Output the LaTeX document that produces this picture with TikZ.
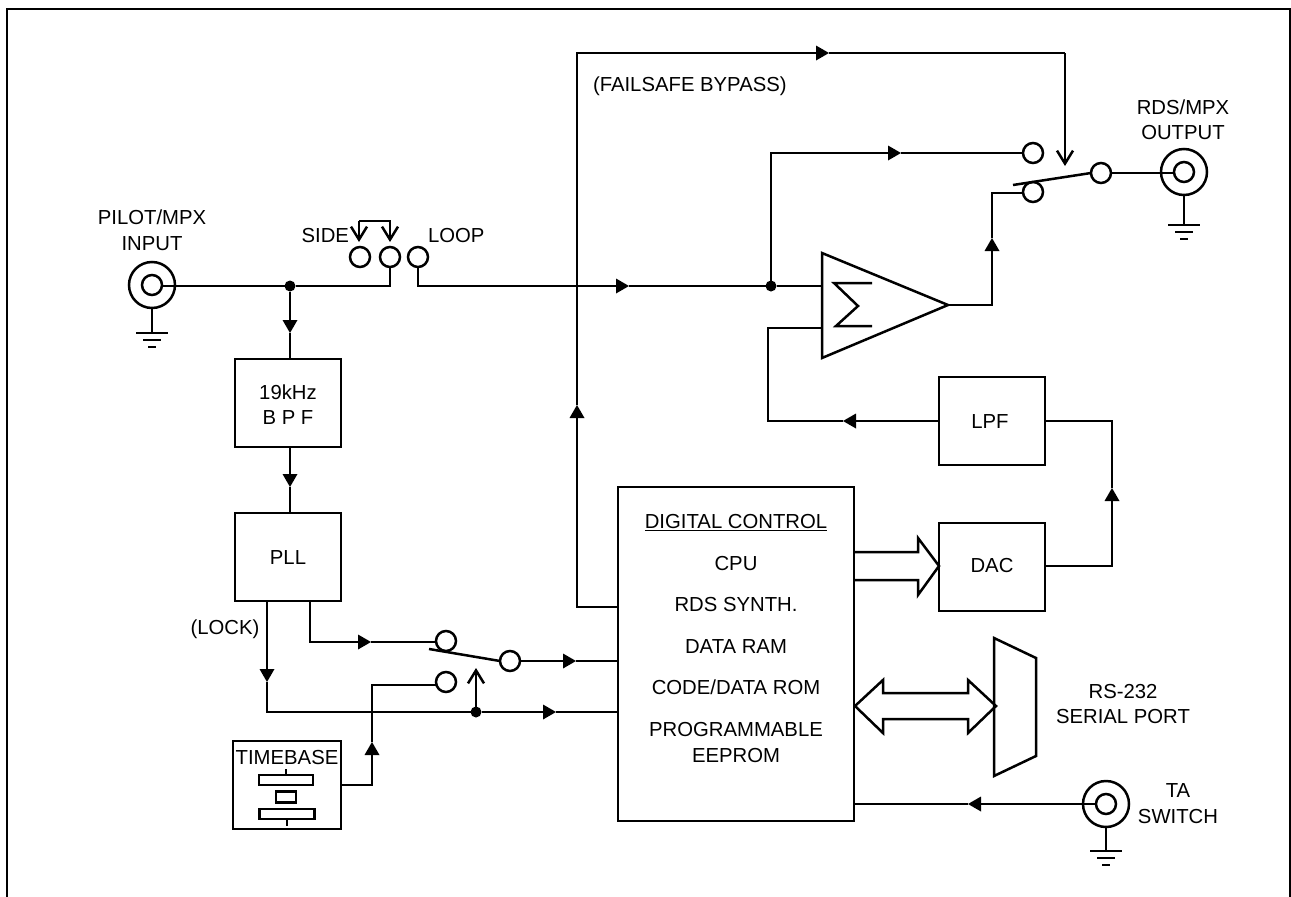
\documentclass[tikz,border=0pt]{standalone}
\usepackage{fontspec}
\setmainfont{Liberation Sans}
\usetikzlibrary{arrows.meta}
\tikzset{
  wire/.style={line width=2.5pt,line join=miter},
  flow/.style={wire,-{Triangle[length=13pt,width=15pt,line width=0pt]}},
  barb/.style={wire,-{Straight Barb[length=13pt,width=16pt,line width=2.5pt]}},
  box/.style={draw,line width=2.5pt,inner sep=0pt,outer sep=0pt},
  term/.style={draw,circle,line width=2.5pt,minimum size=20pt,inner sep=0pt,outer sep=0pt},
  coaxo/.style={draw,circle,line width=2.5pt,minimum size=46pt,inner sep=0pt,outer sep=0pt},
  dot/.style={fill,circle,minimum size=11pt,inner sep=0pt,outer sep=0pt},
  lab/.style={inner sep=0pt,outer sep=0pt,align=center,font=\lbl,text height=14.5pt,text depth=0pt},
  gnd/.style={line width=2.5pt},
  xtal/.style={draw,line width=2.5pt,inner sep=0pt,outer sep=0pt}
}
\newcommand{\lbl}{\fontsize{20.3}{26}\selectfont}
\begin{document}
\begin{tikzpicture}[x=1pt,y=-1pt]
\useasboundingbox (0,0) rectangle (1291,897);
% frame
\coordinate (fa) at (7,897); \coordinate (fb) at (7,9); \coordinate (fc) at (1290,9); \coordinate (fd) at (1290,897);
\draw[line width=2.6pt] (fa) -- (fb) -- (fc) -- (fd);

% boxes
\node[box,minimum width=106pt,minimum height=88pt] (bpf) at (288,403) {};
\node[box,minimum width=106pt,minimum height=88pt] (pll) at (288,557) {};
\node[box,minimum width=106pt,minimum height=88pt] (lpf) at (992,421) {};
\node[box,minimum width=106pt,minimum height=88pt] (dac) at (992,567) {};
\node[box,minimum width=236pt,minimum height=334pt] (cpu) at (736,654) {};
\node[box,minimum width=108pt,minimum height=88pt] (tb) at (287,785) {};
\node[lab] (bpf1) at (288,392) {19kHz};
\node[lab] (bpf2) at (288,417) {B P F};
\node[lab] (plll) at (288,557) {PLL};
\node[lab] (lpfl) at (990,421) {LPF};
\node[lab] (dacl) at (992,565) {DAC};
\node[lab] (cpu1) at (736,521) {\underline{DIGITAL CONTROL}};
\node[lab] (cpu2) at (736,563) {CPU};
\node[lab] (cpu3) at (736,604) {RDS SYNTH.};
\node[lab] (cpu4) at (736,646) {DATA RAM};
\node[lab] (cpu5) at (736,687) {CODE/DATA ROM};
\node[lab] (cpu6) at (736,729) {PROGRAMMABLE};
\node[lab] (cpu7) at (736,755) {EEPROM};
\node[lab] (tbl) at (287,757) {TIMEBASE};

% crystal
\node[xtal,minimum width=54pt,minimum height=10pt] (x1) at (286,780) {};
\node[xtal,minimum width=20pt,minimum height=11pt] (x2) at (286,797) {};
\node[xtal,minimum width=55pt,minimum height=10pt] (x3) at (287,814) {};
\coordinate (x1t) at (286,769); \coordinate (x3b) at (287,826);
\draw[wire] (x1.north) -- (x1t);
\draw[wire] (x3.south) -- (x3b);

% amplifier
\coordinate (a1) at (822,253); \coordinate (a2) at (948,305); \coordinate (a3) at (822,358);
\draw[wire] (a1) -- (a2) -- (a3) -- cycle;
\coordinate (s1) at (872,283); \coordinate (s2) at (834,283); \coordinate (s3) at (858,306); \coordinate (s4) at (836,326); \coordinate (s5) at (872,326);
\draw[wire] (s1) -- (s2) -- (s3) -- (s4) -- (s5);

% serial port
\coordinate (p1) at (994,638); \coordinate (p2) at (1036,658); \coordinate (p3) at (1036,756); \coordinate (p4) at (994,776);
\draw[wire] (p1) -- (p2) -- (p3) -- (p4) -- cycle;

% terminals
\node[coaxo] (in) at (152,285) {}; \node[term] (inc) at (152,285) {};
\node[coaxo] (out) at (1184,172) {}; \node[term] (outc) at (1184,172) {};
\node[coaxo] (ta) at (1106,804) {}; \node[term] (tac) at (1106,804) {};
\node[term] (side) at (360,257) {};
\node[term] (lk) at (390,257) {};
\node[term] (loop) at (418,257) {};
\node[term] (sw1a) at (1033,153) {};
\node[term] (sw1b) at (1033,192) {};
\node[term] (sw1c) at (1101,173) {};
\node[term] (sw2a) at (446,641) {};
\node[term] (sw2b) at (446,682) {};
\node[term] (sw2c) at (510,661) {};
\node[dot] (j1) at (290,286) {};
\node[dot] (j2) at (771,286) {};
\node[dot] (j3) at (476,712) {};

% grounds
\foreach \n/\x/\y in {g1/152/333,g2/1184/225,g3/1106/851}{
  \coordinate (\n) at (\x,\y);
  \draw[gnd] ([xshift=-16pt]\n) -- ([xshift=16pt]\n);
  \draw[gnd] ([xshift=-9pt,yshift=-7pt]\n) -- ([xshift=9pt,yshift=-7pt]\n);
  \draw[gnd] ([xshift=-4pt,yshift=-14pt]\n) -- ([xshift=4pt,yshift=-14pt]\n);
}
\draw[wire] (in.south) -- (g1);
\draw[wire] (out.south) -- (g2);
\draw[wire] (ta.south) -- (g3);

% input path
\coordinate (c1) at (390,286);
\draw[wire] (inc.east |- j1) -- (j1) -- (c1) -- (lk.south);
\coordinate (t1) at (290,333);
\draw[flow] (j1) -- (t1);
\draw[wire] (t1) -- (t1 |- bpf.north);
\coordinate (t2) at (290,487);
\draw[flow] (t1 |- bpf.south) -- (t2);
\draw[wire] (t2) -- (t2 |- pll.north);

% SIDE / LOOP jumper
\coordinate (b1) at (359,221); \coordinate (b2) at (390,221); \coordinate (b1e) at (359,242); \coordinate (b2e) at (390,242);
\draw[barb] (b1e |- b1) -- (b1e);
\draw[barb] (b1) -- (b2) -- (b2e);

% main path
\coordinate (c2) at (418,286); \coordinate (t3) at (629,286);
\draw[flow] (loop.south) -- (c2) -- (t3);
\draw[wire] (t3) -- (j2) -- (j2 -| a1);
\coordinate (c3) at (771,153); \coordinate (t4) at (901,153);
\draw[flow] (j2) -- (c3) -- (t4);
\draw[wire] (t4) -- (sw1a.west);

% bypass
\coordinate (c4) at (577,607); \coordinate (t5) at (577,405); \coordinate (c5) at (577,53); \coordinate (t6) at (829,53); \coordinate (c6) at (1065,53); \coordinate (c7) at (1065,166);
\draw[flow] (cpu.west |- c4) -- (c4) -- (t5);
\draw[flow] (t5) -- (c5) -- (t6);
\draw[wire] (t6) -- (c6);
\draw[barb] (c6) -- (c7);
\node[lab,anchor=west] (fs) at (593,84) {(FAILSAFE BYPASS)};

% switch 1
\coordinate (bl1) at (1013,185);
\draw[wire] (bl1) -- (sw1c.west);
\draw[wire] (sw1c.east) -- (sw1c.east -| outc.west);
\coordinate (c8) at (992,193); \coordinate (t7) at (992,238); \coordinate (c9) at (992,305);
\draw[wire] (sw1b.west |- c8) -- (c8) -- (t7);
\draw[flow] (a2) -- (c9) -- (t7);

% feedback
\coordinate (c10) at (768,328); \coordinate (c11) at (768,421); \coordinate (t8) at (843,421);
\draw[wire] (a1 |- c10) -- (c10) -- (c11) -- (t8);
\draw[flow] (lpf.west) -- (t8);

% dac
\coordinate (c12) at (1112,566); \coordinate (t9) at (1112,488); \coordinate (c13) at (1112,421);
\draw[flow] (dac.east |- c12) -- (c12) -- (t9);
\draw[wire] (t9) -- (c13) -- (lpf.east);

% bus arrows
\coordinate (d1) at (854,552); \coordinate (d2) at (918,552); \coordinate (d3) at (918,538); \coordinate (d4) at (939,566); \coordinate (d5) at (918,595); \coordinate (d6) at (918,580); \coordinate (d7) at (854,580);
\draw[wire] (d1) -- (d2) -- (d3) -- (d4) -- (d5) -- (d6) -- (d7);
\coordinate (e1) at (855,706); \coordinate (e2) at (883,680); \coordinate (e3) at (883,693); \coordinate (e4) at (968,693); \coordinate (e5) at (968,680); \coordinate (e6) at (996,706); \coordinate (e7) at (968,733); \coordinate (e8) at (968,719); \coordinate (e9) at (883,719); \coordinate (e10) at (883,733);
\draw[wire] (e1) -- (e2) -- (e3) -- (e4) -- (e5) -- (e6) -- (e7) -- (e8) -- (e9) -- (e10) -- cycle;

% TA
\coordinate (t10) at (968,804);
\draw[flow] (tac.west) -- (t10);
\draw[wire] (t10) -- (cpu.east |- t10);

% lower left
\coordinate (c14) at (310,642); \coordinate (t11) at (371,642);
\draw[flow] (c14 |- pll.south) -- (c14) -- (t11);
\draw[wire] (t11) -- (t11 -| sw2a.west);
\coordinate (c15) at (267,712); \coordinate (t12) at (267,682);
\draw[flow] (t12 |- pll.south) -- (t12);
\draw[wire] (t12) -- (c15) -- (j3);
\coordinate (t13) at (556,712);
\draw[flow] (j3) -- (t13);
\draw[wire] (t13) -- (t13 -| cpu.west);
\coordinate (bl2) at (429,649);
\draw[wire] (bl2) -- (sw2c.west);
\coordinate (t14) at (576,661);
\draw[flow] (sw2c.east) -- (t14);
\draw[wire] (t14) -- (t14 -| cpu.west);
\coordinate (t15) at (476,668);
\draw[barb] (j3) -- (t15);
\coordinate (c16) at (372,685); \coordinate (c17) at (372,785); \coordinate (t16) at (372,742); \coordinate (sw2bw) at (437,685);
\draw[wire] (sw2bw) -- (c16) -- (t16);
\draw[flow] (tb.east |- c17) -- (c17) -- (t16);

% labels
\node[lab] (l1) at (152,217) {PILOT/MPX};
\node[lab] (l2) at (152,243) {INPUT};
\node[lab] (l3) at (1183,107) {RDS/MPX};
\node[lab] (l4) at (1183,132) {OUTPUT};
\node[lab,anchor=east] (l5) at (349,235) {SIDE};
\node[lab,anchor=west] (l6) at (428,235) {LOOP};
\node[lab] (l7) at (225,627) {(LOCK)};
\node[lab] (l8) at (1123,691) {RS-232};
\node[lab] (l9) at (1123,716) {SERIAL PORT};
\node[lab] (l10) at (1178,790) {TA};
\node[lab] (l11) at (1178,816) {SWITCH};
\end{tikzpicture}
\end{document}
